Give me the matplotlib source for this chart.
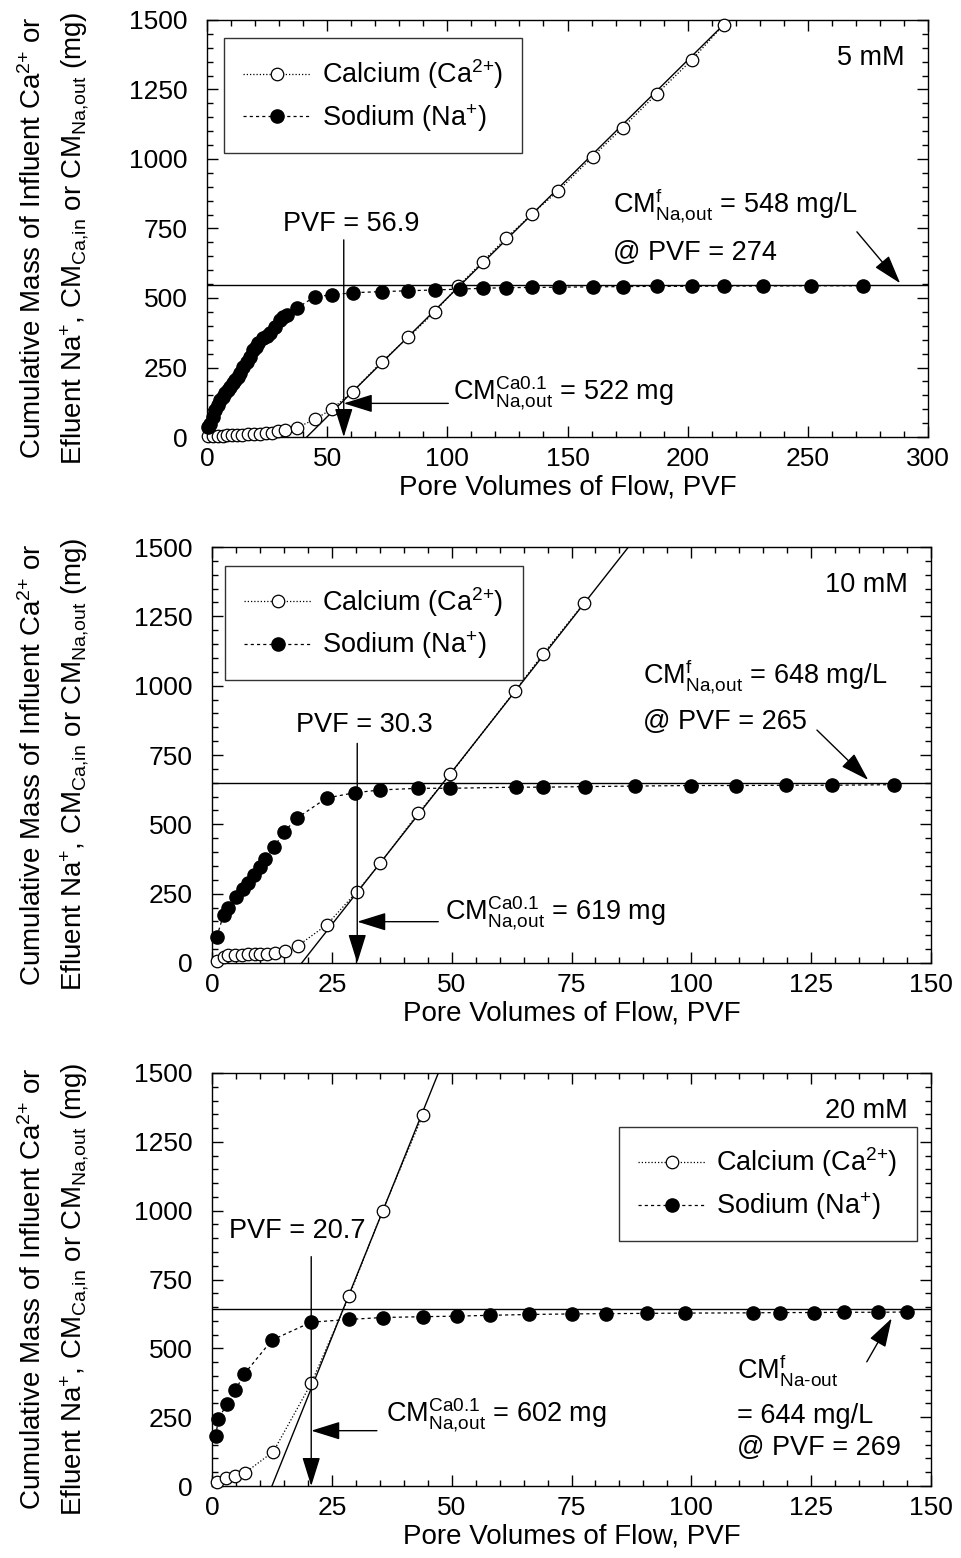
import numpy as np
import matplotlib.pyplot as plt
from matplotlib.ticker import MultipleLocator

plt.rcParams['font.family'] = 'Liberation Sans'
plt.rcParams['mathtext.fontset'] = 'custom'
plt.rcParams['mathtext.rm'] = 'Liberation Sans'
plt.rcParams['mathtext.it'] = 'Liberation Sans'
plt.rcParams['mathtext.bf'] = 'Liberation Sans:bold'

# ---- 5 mM column ----
na5_pvf = [0.5, 1.3, 2.3, 3.3, 4.4, 5.4, 6.5, 7.5, 8.6, 9.6, 10.7, 11.7, 12.7, 13.7,
           15.1, 16.5, 17.9, 19.3, 20.4, 21.4, 23.4, 24.8, 26.2, 28.3, 30.4, 31.8,
           33.2, 37.3, 44.9, 51.9, 60.6, 72.7, 83.8, 94.9, 105.3, 115.0, 124.4,
           135.1, 146.6, 160.4, 173.0, 187.1, 201.7, 215.1, 231.2, 251.4, 273.1]
na5_cm = [37, 48, 72, 97, 115, 133, 145, 157, 169, 181, 193, 205, 217, 229,
          253, 271, 289, 313, 325, 337, 355, 364, 373, 397, 421, 430,
          439, 463, 505, 511, 519, 523, 526, 529, 532, 535, 537,
          538, 539, 540, 541, 542, 542, 543, 543, 544, 544]
ca5_pvf = [0.5, 2.5, 4.5, 6.5, 8.5, 10.5, 12.5, 14.5, 17.0, 19.5, 22.0, 24.5, 27.0,
           29.5, 32.5, 37.3, 44.9, 51.9, 60.6, 72.7, 83.8, 94.9, 104.6, 114.7,
           124.4, 135.1, 146.2, 160.4, 173.0, 187.1, 201.7, 214.9]
ca5_cm = [2, 3, 4, 5, 6, 7, 8, 9, 10, 11, 12, 14, 16,
          20, 25, 33, 64, 100, 163, 271, 359, 451, 543, 631,
          715, 801, 886, 1008, 1113, 1234, 1356, 1482]

# ---- 10 mM column ----
na10_pvf = [1.0, 2.4, 3.4, 5.1, 6.5, 7.6, 8.8, 10.0, 11.1, 13.0, 15.1, 17.7, 23.9,
            29.8, 35.1, 43.0, 49.7, 63.4, 69.0, 77.8, 88.3, 99.9, 109.3, 119.7,
            129.3, 142.3]
na10_cm = [95, 173, 197, 239, 266, 287, 317, 347, 374, 420, 474, 522, 595,
           614, 624, 630, 630, 634, 634, 636, 638, 640, 640, 641, 641, 643]
ca10_pvf = [1.0, 2.4, 3.4, 4.8, 6.2, 7.6, 9.0, 10.0, 11.4, 13.1, 15.2, 17.9, 23.9,
            30.2, 35.1, 43.0, 49.7, 63.2, 69.0, 77.6]
ca10_cm = [7, 23, 29, 29, 29, 31, 31, 32, 32, 37, 44, 62, 137,
           257, 360, 540, 680, 981, 1113, 1297]

# ---- 20 mM column ----
na20_pvf = [0.8, 1.3, 3.1, 4.9, 6.7, 12.5, 20.7, 28.6, 35.6, 44.0, 51.2, 58.0, 66.2,
            75.0, 82.3, 90.7, 98.7, 112.8, 118.5, 125.5, 131.9, 139.0, 144.9]
na20_cm = [182, 242, 298, 349, 406, 530, 595, 605, 612, 615, 617, 620, 623,
           625, 626, 627, 628, 629, 630, 630, 631, 631, 632]
ca20_pvf = [1.0, 2.9, 4.9, 6.9, 12.8, 20.7, 28.6, 35.6, 44.0]
ca20_cm = [16, 28, 36, 48, 125, 373, 690, 1000, 1348]

# per-panel summary values
conc_labels = ['5 mM', '10 mM', '20 mM']
x_max = [300, 150, 150]
x_major = [50, 25, 25]
x_minor = [10, 5, 5]
pvf_break = [56.9, 30.3, 20.7]
cm_ca01 = [522, 619, 602]
cm_final = [548, 648, 644]
pvf_final = [274, 265, 269]
# linear fit of influent Ca: PVF at zero mass and slope (mg per PVF)
fit_x0 = [41.5, 18.7, 12.5]
fit_slope = [8.55, 22.0, 43.2]

panels = [(na5_pvf, na5_cm, ca5_pvf, ca5_cm),
          (na10_pvf, na10_cm, ca10_pvf, ca10_cm),
          (na20_pvf, na20_cm, ca20_pvf, ca20_cm)]

axes_rects = [[0.2154, 0.7195, 0.7503, 0.2677],
              [0.2206, 0.3819, 0.7482, 0.2670],
              [0.2206, 0.0462, 0.7482, 0.2651]]

# annotation placement (data coords)
pvf_text_pos = [(60, 740), (31.7, 834), (17.8, 900)]
vline_top = [709, 792, 833]
harrow = [(100.4, 121), (47.2, 149), (34.4, 201)]
ca01_text_pos = [(102.5, 133), (48.6, 155), (36.4, 234)]
final_text_x = [168.8, 90.0, 109.6]
final_arrow = [((270.4, 738), (288.4, 553)),
               ((126.2, 840), (136.9, 660)),
               ((136.6, 451), (141.8, 609))]
legend_anchor = [(0.0236, 0.956), (0.018, 0.954), (0.566, 0.870)]

FS = 19.5
arrow_kw = dict(arrowstyle='-|>,head_length=0.9,head_width=0.28', color='k', lw=1,
                shrinkA=0, shrinkB=0, mutation_scale=20)

ca_label = 'Calcium (Ca$\\mathregular{^{2{+}}}$)'
na_label = 'Sodium (Na$\\mathregular{^{{+}}}$)'

fig = plt.figure(figsize=(9.61, 15.58), dpi=100)

for i, (na_x, na_y, ca_x, ca_y) in enumerate(panels):
    ax = fig.add_axes(axes_rects[i])

    # fitted line through influent calcium
    fx = np.array([fit_x0[i], fit_x0[i] + 1500 / fit_slope[i] * 1.05])
    ax.plot(fx, (fx - fit_x0[i]) * fit_slope[i], color='k', lw=1)

    # final cumulative sodium level
    ax.axhline(cm_final[i], color='k', lw=1)

    ax.plot(ca_x, ca_y, linestyle=(0, (1, 1.6)), color='k', lw=0.9,
            marker='o', ms=9, mfc='white', mec='k', mew=0.9,
            label=ca_label, clip_on=False, zorder=3)
    ax.plot(na_x, na_y, linestyle=(0, (2.5, 2.5)), color='k', lw=0.9,
            marker='o', ms=9.5, mfc='k', mec='k',
            label=na_label, clip_on=False, zorder=4)

    # breakthrough marker
    ax.text(pvf_text_pos[i][0], pvf_text_pos[i][1], 'PVF = %.1f' % pvf_break[i],
            ha='center', va='baseline', fontsize=FS)
    ax.annotate('', xy=(pvf_break[i], 0), xytext=(pvf_break[i], vline_top[i]),
                arrowprops=arrow_kw)
    ax.annotate('', xy=(pvf_break[i], harrow[i][1]), xytext=harrow[i],
                arrowprops=arrow_kw)
    ax.text(ca01_text_pos[i][0], ca01_text_pos[i][1],
            'CM$\\mathregular{^{Ca0.1}_{Na{,}out}}$ = %d mg' % cm_ca01[i],
            ha='left', va='baseline', fontsize=FS)

    # final sodium mass
    if i < 2:
        ax.text(final_text_x[i], [806, 1006][i],
                'CM$\\mathregular{^{f}_{Na{,}out}}$ = %d mg/L' % cm_final[i],
                ha='left', va='baseline', fontsize=FS)
        ax.text(final_text_x[i], [637, 843][i], '@ PVF = %d' % pvf_final[i],
                ha='left', va='baseline', fontsize=FS)
    else:
        ax.text(final_text_x[i], 391, 'CM$\\mathregular{^{f}_{Na\\text{-}out}}$',
                ha='left', va='baseline', fontsize=FS)
        ax.text(final_text_x[i], 228, '= %d mg/L' % cm_final[i],
                ha='left', va='baseline', fontsize=FS)
        ax.text(final_text_x[i], 113, '@ PVF = %d' % pvf_final[i],
                ha='left', va='baseline', fontsize=FS)
    ax.annotate('', xy=final_arrow[i][1], xytext=final_arrow[i][0],
                arrowprops=arrow_kw)

    ax.text(0.968, 0.94, conc_labels[i], transform=ax.transAxes,
            ha='right', va='top', fontsize=FS)

    leg = ax.legend(loc='upper left', bbox_to_anchor=legend_anchor[i],
                    fontsize=FS, frameon=True, fancybox=False, numpoints=1,
                    handlelength=2.5, handletextpad=0.4, borderpad=0.7,
                    labelspacing=0.4, borderaxespad=0)
    leg.get_frame().set_edgecolor('k')
    leg.get_frame().set_linewidth(1)

    ax.set_xlim(0, x_max[i])
    ax.set_ylim(0, 1500)
    ax.xaxis.set_major_locator(MultipleLocator(x_major[i]))
    ax.xaxis.set_minor_locator(MultipleLocator(x_minor[i]))
    ax.yaxis.set_major_locator(MultipleLocator(250))
    ax.yaxis.set_minor_locator(MultipleLocator(50))
    ax.tick_params(which='both', direction='in', top=True, right=True, width=1)
    ax.tick_params(which='major', length=8)
    ax.tick_params(which='minor', length=4)
    ax.tick_params(axis='x', which='major', labelsize=19, pad=7)
    ax.tick_params(axis='y', which='major', labelsize=19, pad=14)
    for s in ax.spines.values():
        s.set_linewidth(1)

    ax.set_xlabel('Pore Volumes of Flow, PVF', fontsize=20, labelpad=3)

    # two-line y axis title
    ax.annotate('Cumulative Mass of Influent Ca$\\mathregular{^{2{+}}}$ or',
                xy=(33 / 961, 0.477), xycoords=('figure fraction', 'axes fraction'),
                rotation=90, ha='center', va='center', fontsize=20)
    ax.annotate('Efluent Na$\\mathregular{^{{+}}}$, CM$\\mathregular{_{Ca{,}in}}$ or '
                'CM$\\mathregular{_{Na{,}out}}$ (mg)',
                xy=(75 / 961, 0.477), xycoords=('figure fraction', 'axes fraction'),
                rotation=90, ha='center', va='center', fontsize=20)

fig.savefig('out.png', dpi=100)
